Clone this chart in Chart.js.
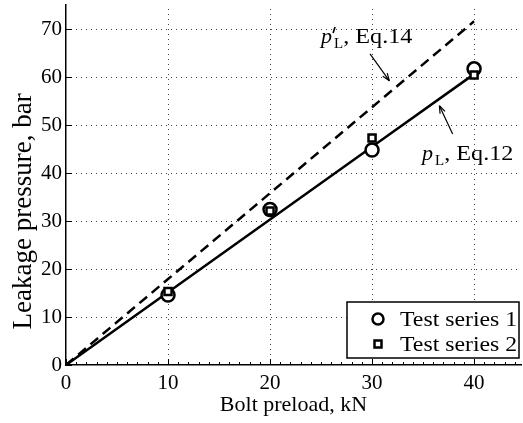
<!DOCTYPE html>
<html>
<head>
<meta charset="utf-8">
<script src="https://cdn.jsdelivr.net/npm/chart.js@4/dist/chart.umd.min.js"></script>
<style>
html, body { margin: 0; padding: 0; background: #fff; overflow: hidden; }
</style>
</head>
<body>
<canvas id="chart" width="523" height="423"></canvas>
<script>
// values
var preload = [0, 10, 20, 30, 40];
var eq12 = [0, 15.15, 30.3, 45.45, 60.6];
var eq14 = [0, 17.9, 35.8, 53.7, 71.6];
var testLoad = [10, 20, 30, 40];
var series1 = [14.6, 32.4, 44.8, 61.7];
var series2 = [15.3, 32.1, 47.3, 60.4];
var xTickValues = [0, 10, 20, 30, 40];
var yTickValues = [0, 10, 20, 30, 40, 50, 60, 70];
var legendLabels = ['Test series 1', 'Test series 2'];
var yTitle = 'Leakage pressure, bar';

var serif = "'Liberation Serif', 'Times New Roman', serif";

function pts(xs, ys) {
    var out = [];
    for (var i = 0; i < xs.length; i++) out.push({x: xs[i], y: ys[i]});
    return out;
}

// annotation labels, positions in data units
var notes = [
    {x: 25.0, y: 67.1, prime: true, text: ', Eq.14', from: [29.8, 64.8], to: [31.7, 59.2]},
    {x: 34.9, y: 42.7, prime: false, text: ', Eq.12', from: [37.9, 48.1], to: [36.6, 54.0]}
];

function arrow(ctx, x1, y1, x2, y2) {
    var a = Math.atan2(y2 - y1, x2 - x1);
    ctx.beginPath();
    ctx.moveTo(x1, y1);
    ctx.lineTo(x2, y2);
    ctx.stroke();
    ctx.beginPath();
    ctx.moveTo(x2, y2);
    ctx.lineTo(x2 - 8 * Math.cos(a - 0.35), y2 - 8 * Math.sin(a - 0.35));
    ctx.moveTo(x2, y2);
    ctx.lineTo(x2 - 8 * Math.cos(a + 0.35), y2 - 8 * Math.sin(a + 0.35));
    ctx.stroke();
}

// text stretched horizontally to match the original's wide type
function wideText(ctx, str, x, y, sx) {
    ctx.save();
    ctx.translate(x, y);
    ctx.scale(sx, 1);
    ctx.fillText(str, 0, 0);
    ctx.restore();
    return ctx.measureText(str).width * sx;
}

function setTicks(values) {
    return function(scale) {
        scale.ticks = values.map(function(v) { return {value: v}; });
    };
}

var extras = {
    id: 'extras',
    beforeDatasetsDraw: function(chart) {
        var ctx = chart.ctx;
        var xs = chart.scales.x, ys = chart.scales.y;
        var area = chart.chartArea;
        ctx.save();
        ctx.strokeStyle = '#444';
        ctx.lineWidth = 1;
        ctx.setLineDash([1, 4]);
        xTickValues.forEach(function(v) {
            if (v === 0) return;
            var px = Math.round(xs.getPixelForValue(v)) + 0.5;
            ctx.beginPath();
            ctx.moveTo(px, area.bottom);
            ctx.lineTo(px, area.top);
            ctx.stroke();
        });
        yTickValues.forEach(function(v) {
            if (v === 0) return;
            var py = Math.round(ys.getPixelForValue(v)) + 0.5;
            ctx.beginPath();
            ctx.moveTo(area.left, py);
            ctx.lineTo(area.right, py);
            ctx.stroke();
        });
        ctx.restore();
    },
    afterDatasetsDraw: function(chart) {
        var ctx = chart.ctx;
        var xs = chart.scales.x, ys = chart.scales.y;
        var area = chart.chartArea;
        ctx.save();
        ctx.strokeStyle = '#000';
        ctx.lineWidth = 1;
        // minor + major ticks, inward
        for (var v = 0; v <= 44; v++) {
            var px = Math.round(xs.getPixelForValue(v)) + 0.5;
            var len = (v % 10 === 0) ? 6 : 3;
            ctx.beginPath();
            ctx.moveTo(px, area.bottom);
            ctx.lineTo(px, area.bottom - len);
            ctx.stroke();
        }
        yTickValues.forEach(function(w) {
            var py = Math.round(ys.getPixelForValue(w)) + 0.5;
            ctx.beginPath();
            ctx.moveTo(area.left, py);
            ctx.lineTo(area.left + 6, py);
            ctx.stroke();
        });

        // y axis title (larger than the rest, sits a bit low)
        ctx.fillStyle = '#000';
        ctx.save();
        ctx.translate(31, ys.getPixelForValue(32));
        ctx.rotate(-Math.PI / 2);
        ctx.font = '27px ' + serif;
        ctx.textAlign = 'center';
        ctx.textBaseline = 'alphabetic';
        ctx.fillText(yTitle, 0, 0);
        ctx.restore();

        // annotations
        ctx.textBaseline = 'alphabetic';
        notes.forEach(function(n) {
            var x = xs.getPixelForValue(n.x), y = ys.getPixelForValue(n.y);
            ctx.font = 'italic 21px ' + serif;
            var pw = wideText(ctx, 'p', x, y, 1.05);
            if (n.prime) {
                ctx.lineWidth = 1.6;
                ctx.beginPath();
                ctx.moveTo(x + pw + 3, y - 16);
                ctx.lineTo(x + pw + 1, y - 10);
                ctx.stroke();
            }
            ctx.font = '15px ' + serif;
            var lw = wideText(ctx, 'L', x + pw + 2, y + 5, 1);
            ctx.font = '22px ' + serif;
            wideText(ctx, n.text, x + pw + lw + 2, y, 1.1);
            ctx.lineWidth = 1.2;
            arrow(ctx, xs.getPixelForValue(n.from[0]), ys.getPixelForValue(n.from[1]),
                  xs.getPixelForValue(n.to[0]), ys.getPixelForValue(n.to[1]));
        });

        // legend box, lower right
        var bw = 172, bh = 56;
        var bx = area.right - bw - 2, by = area.bottom - bh - 7;
        ctx.fillStyle = '#fff';
        ctx.fillRect(bx, by, bw, bh);
        ctx.lineWidth = 1.5;
        ctx.strokeRect(bx, by, bw, bh);
        ctx.fillStyle = '#000';
        ctx.font = '22px ' + serif;
        ctx.textBaseline = 'middle';
        for (var i = 0; i < legendLabels.length; i++) {
            var cy = by + 17 + i * 25;
            var cx = bx + 31;
            ctx.lineWidth = 2.5;
            ctx.beginPath();
            if (i === 0) {
                ctx.arc(cx, cy, 5.5, 0, Math.PI * 2);
            } else {
                ctx.rect(cx - 3.5, cy - 3.5, 7, 7);
            }
            ctx.stroke();
            wideText(ctx, legendLabels[i], bx + 53, cy + 1, 1.08);
        }
        ctx.restore();
    }
};

new Chart(document.getElementById('chart'), {
    type: 'line',
    data: {
        datasets: [
            {
                label: 'Test series 2',
                data: pts(testLoad, series2),
                showLine: false,
                pointStyle: 'rect',
                pointRadius: 5,
                pointBorderWidth: 2.5,
                pointBorderColor: '#000',
                pointBackgroundColor: '#fff',
                order: 0
            },
            {
                label: 'Test series 1',
                data: pts(testLoad, series1),
                showLine: false,
                pointStyle: 'circle',
                pointRadius: 6.5,
                pointBorderWidth: 2.5,
                pointBorderColor: '#000',
                pointBackgroundColor: '#fff',
                order: 1
            },
            {
                label: 'Eq.12',
                data: pts(preload, eq12),
                borderColor: '#000',
                borderWidth: 2.5,
                pointRadius: 0,
                tension: 0,
                order: 2
            },
            {
                label: 'Eq.14',
                data: pts(preload, eq14),
                borderColor: '#000',
                borderWidth: 2.5,
                borderDash: [10, 6],
                pointRadius: 0,
                tension: 0,
                order: 3
            }
        ]
    },
    options: {
        responsive: false,
        animation: false,
        layout: { autoPadding: false, padding: { top: 5, right: 2, left: 0, bottom: 0 } },
        plugins: {
            legend: { display: false },
            tooltip: { enabled: false }
        },
        scales: {
            x: {
                type: 'linear',
                min: 0,
                max: 44.6,
                afterBuildTicks: setTicks(xTickValues),
                afterFit: function(s) { s.height = 58; s.paddingLeft = 0; s.paddingRight = 0; },
                ticks: { autoSkip: false, maxRotation: 0, color: '#000', padding: 6, font: { family: serif, size: 21 } },
                grid: { display: false, drawTicks: false },
                border: { color: '#000', width: 1.5 },
                title: { display: true, text: 'Bolt preload, kN', color: '#000',
                         font: { family: serif, size: 22 }, padding: { bottom: 5 } }
            },
            y: {
                min: 0,
                max: 75,
                afterBuildTicks: setTicks(yTickValues),
                afterFit: function(s) { s.width = 66; s.paddingTop = 0; s.paddingBottom = 0; },
                ticks: { autoSkip: false, color: '#000', padding: 4, font: { family: serif, size: 21 } },
                grid: { display: false, drawTicks: false },
                border: { color: '#000', width: 1.5 }
            }
        }
    },
    plugins: [extras]
});
</script>
</body>
</html>
